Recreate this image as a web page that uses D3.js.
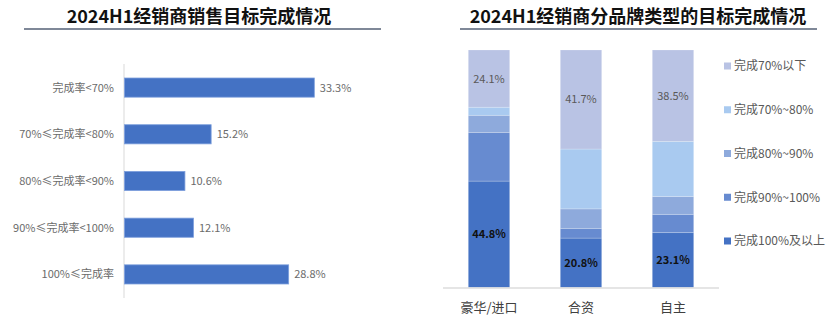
<!DOCTYPE html>
<html>
<head>
<meta charset="utf-8">
<script src="https://cdn.jsdelivr.net/npm/d3@7/dist/d3.min.js"></script>
<style>
  html, body { margin: 0; padding: 0; background: #fff; }
  svg { display: block; font-family: "Noto Sans CJK SC", "Noto Sans", sans-serif; }
</style>
</head>
<body>
<svg id="chart" width="835" height="327"></svg>
<script>
// Left panel: distribution of dealers by target completion rate
const rateBands = ["完成率<70%", "70%≤完成率<80%", "80%≤完成率<90%", "90%≤完成率<100%", "100%≤完成率"];
const rateShares = [33.3, 15.2, 10.6, 12.1, 28.8];

// Right panel: completion by brand type (stacked, bottom to top)
const brandTypes = ["豪华/进口", "合资", "自主"];
const tierKeys = ["完成100%及以上", "完成90%~100%", "完成80%~90%", "完成70%~80%", "完成70%以下"];
const tier100Plus = [44.8, 20.8, 23.1];
const tier90to100 = [20.5, 4.1, 7.7];
const tier80to90 = [7.2, 8.2, 7.5];
const tier70to80 = [3.4, 25.2, 23.2];
const tierBelow70 = [24.1, 41.7, 38.5];
const legendOrder = ["完成70%以下", "完成70%~80%", "完成80%~90%", "完成90%~100%", "完成100%及以上"];

const titles = ["2024H1经销商销售目标完成情况", "2024H1经销商分品牌类型的目标完成情况"];

const svg = d3.select("#chart");
const fmt = v => v.toFixed(1) + "%";

// ---- Titles with underline rules ----
const titleSpecs = [
  { text: titles[0], cx: 199, x1: 24, x2: 381 },
  { text: titles[1], cx: 638, x1: 460, x2: 817 }
];
titleSpecs.forEach(t => {
  svg.append("text")
    .attr("x", t.cx).attr("y", 23)
    .attr("text-anchor", "middle")
    .attr("font-size", 18).attr("font-weight", "bold")
    .attr("fill", "#111")
    .text(t.text);
  svg.append("line")
    .attr("x1", t.x1).attr("x2", t.x2)
    .attr("y1", 29).attr("y2", 29)
    .attr("stroke", "#7f8898").attr("stroke-width", 2);
});

// ---- Left: horizontal bar chart ----
const xL = d3.scaleLinear().domain([0, 40]).range([124, 352]);
const yL = d3.scaleBand().domain(rateBands).range([64, 298]).paddingInner(0.59).paddingOuter(0.3);

const left = svg.append("g");
left.append("line")
  .attr("x1", xL(0)).attr("x2", xL(0))
  .attr("y1", 64).attr("y2", 298)
  .attr("stroke", "#d9d9d9").attr("stroke-width", 1);

const rows = rateBands.map((b, i) => ({ band: b, value: rateShares[i] }));
left.selectAll("rect.bar").data(rows).join("rect")
  .attr("class", "bar")
  .attr("x", xL(0) + 0.5)
  .attr("y", d => yL(d.band))
  .attr("width", d => xL(d.value) - xL(0))
  .attr("height", yL.bandwidth())
  .attr("fill", "#4472c4")
  .attr("stroke", "#7d9fdc").attr("stroke-width", 0.8);

left.selectAll("text.cat").data(rows).join("text")
  .attr("class", "cat")
  .attr("x", 114)
  .attr("y", d => yL(d.band) + yL.bandwidth() / 2)
  .attr("dy", "0.36em")
  .attr("text-anchor", "end")
  .attr("font-size", 11)
  .attr("fill", "#6b6b6b")
  .text(d => d.band);

left.selectAll("text.val").data(rows).join("text")
  .attr("class", "val")
  .attr("x", d => xL(d.value) + 6)
  .attr("y", d => yL(d.band) + yL.bandwidth() / 2)
  .attr("dy", "0.36em")
  .attr("font-size", 11)
  .attr("fill", "#6b6b6b")
  .text(d => fmt(d.value));

// ---- Right: 100% stacked column chart ----
const table = brandTypes.map((b, i) => ({
  brand: b,
  "完成100%及以上": tier100Plus[i],
  "完成90%~100%": tier90to100[i],
  "完成80%~90%": tier80to90[i],
  "完成70%~80%": tier70to80[i],
  "完成70%以下": tierBelow70[i]
}));
const series = d3.stack().keys(tierKeys)(table);

const xR = d3.scaleBand().domain(brandTypes).range([443, 719]).paddingInner(0.55).paddingOuter(0.275);
const yR = d3.scaleLinear().domain([0, 100]).range([287.5, 50]);
const color = d3.scaleOrdinal()
  .domain(tierKeys)
  .range(["#4472c4", "#678bd0", "#8eaadc", "#a9caf0", "#b9c3e4"]);

const right = svg.append("g");
right.selectAll("g.layer").data(series).join("g")
  .attr("class", "layer")
  .attr("fill", d => color(d.key))
  .selectAll("rect").data(d => d).join("rect")
  .attr("x", d => xR(d.data.brand))
  .attr("y", d => yR(d[1]))
  .attr("width", xR.bandwidth())
  .attr("height", d => yR(d[0]) - yR(d[1]))
  .attr("stroke", "#ffffff").attr("stroke-opacity", 0.25).attr("stroke-width", 0.8);

// Baseline
right.append("line")
  .attr("x1", 443).attr("x2", 719)
  .attr("y1", 288).attr("y2", 288)
  .attr("stroke", "#dcdcdc").attr("stroke-width", 1.5);

// Value labels: top tier and bottom tier
const topLayer = series.find(s => s.key === "完成70%以下");
const bottomLayer = series.find(s => s.key === "完成100%及以上");
right.selectAll("text.top").data(topLayer).join("text")
  .attr("class", "top")
  .attr("x", d => xR(d.data.brand) + xR.bandwidth() / 2)
  .attr("y", d => (yR(d[0]) + yR(d[1])) / 2)
  .attr("dy", "0.36em")
  .attr("text-anchor", "middle")
  .attr("font-size", 11)
  .attr("fill", "#595959")
  .text(d => fmt(d[1] - d[0]));
right.selectAll("text.bot").data(bottomLayer).join("text")
  .attr("class", "bot")
  .attr("x", d => xR(d.data.brand) + xR.bandwidth() / 2)
  .attr("y", d => (yR(d[0]) + yR(d[1])) / 2)
  .attr("dy", "0.36em")
  .attr("text-anchor", "middle")
  .attr("font-size", 11).attr("font-weight", "bold")
  .attr("fill", "#111")
  .text(d => fmt(d[1] - d[0]));

// Category axis labels
right.selectAll("text.brand").data(brandTypes).join("text")
  .attr("class", "brand")
  .attr("x", d => xR(d) + xR.bandwidth() / 2)
  .attr("y", 307)
  .attr("dy", "0.36em")
  .attr("text-anchor", "middle")
  .attr("font-size", 13)
  .attr("fill", "#404040")
  .text(d => d);

// Legend
const legendY = d3.scalePoint().domain(legendOrder).range([66, 241]);
const legend = right.selectAll("g.legend").data(legendOrder).join("g")
  .attr("class", "legend")
  .attr("transform", d => `translate(724,${legendY(d)})`);
legend.append("rect")
  .attr("x", 0).attr("y", -3.5)
  .attr("width", 7).attr("height", 7)
  .attr("fill", d => color(d));
legend.append("text")
  .attr("x", 10).attr("y", 0)
  .attr("dy", "0.36em")
  .attr("font-size", 12)
  .attr("fill", "#595959")
  .text(d => d);
</script>
</body>
</html>
